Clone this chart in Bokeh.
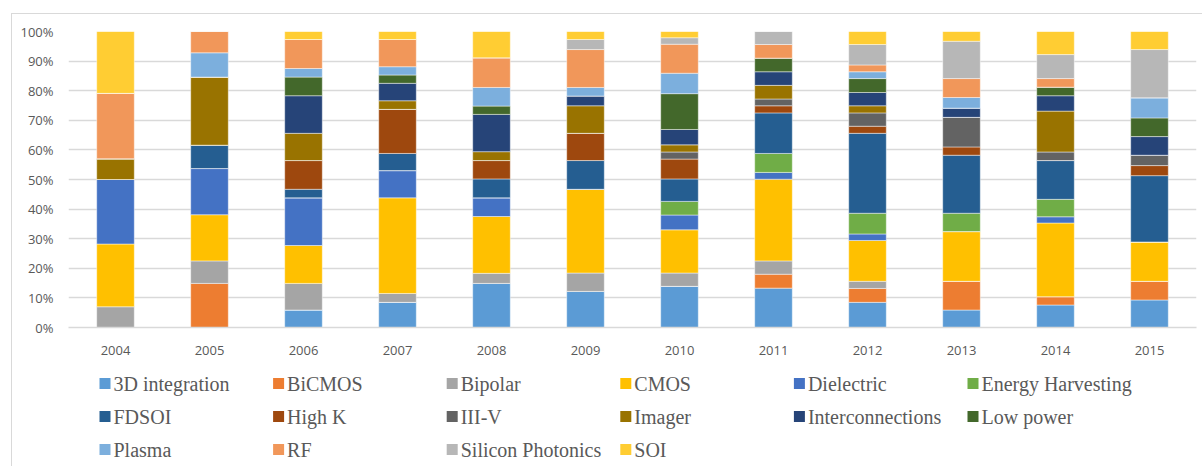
from bokeh.plotting import figure
from bokeh.layouts import column
from bokeh.models import (FactorRange, Range1d, FixedTicker, ColumnDataSource,
                          InlineStyleSheet, CustomJSTickFormatter)
from bokeh.core.properties import value
from bokeh.embed import file_html
from bokeh.resources import INLINE

years = ["2004", "2005", "2006", "2007", "2008", "2009", "2010", "2011", "2012", "2013", "2014", "2015"]

series_names = ["3D integration", "BiCMOS", "Bipolar", "CMOS", "Dielectric", "Energy Harvesting",
                "FDSOI", "High K", "III-V", "Imager", "Interconnections", "Low power",
                "Plasma", "RF", "Silicon Photonics", "SOI"]

# share of each topic per year (%)
three_d = [0, 0, 5.9, 8.5, 14.9, 12.2, 13.9, 13.3, 8.5, 5.9, 7.6, 9.3]
bicmos = [0, 14.9, 0, 0, 0, 0, 0, 4.7, 4.7, 9.7, 2.8, 6.3]
bipolar = [7.0, 7.6, 9.0, 3.0, 3.4, 6.2, 4.5, 4.5, 2.4, 0, 0, 0]
cmos = [21.2, 15.6, 12.8, 32.3, 19.2, 28.3, 14.6, 27.6, 13.8, 16.8, 24.9, 13.3]
dielectric = [21.8, 15.6, 16.1, 9.2, 6.3, 0, 5.0, 2.3, 2.2, 0, 2.1, 0]
energy_harvesting = [0, 0, 0, 0, 0, 0, 4.6, 6.4, 7.0, 6.2, 5.9, 0]
fdsoi = [0, 7.9, 2.9, 5.8, 6.4, 9.7, 7.6, 13.7, 27.0, 19.6, 13.1, 22.4]
high_k = [0, 0, 9.7, 14.9, 6.2, 9.2, 6.7, 2.4, 2.4, 2.8, 0, 3.4]
iii_v = [0, 0, 0, 0, 0, 0, 2.4, 2.3, 4.5, 10.0, 2.9, 3.5]
imager = [7.0, 23.0, 9.2, 2.9, 3.0, 9.3, 2.4, 4.6, 2.4, 0, 13.8, 0]
interconnections = [0, 0, 12.7, 5.9, 12.6, 3.3, 5.2, 4.6, 4.5, 3.1, 5.2, 6.3]
low_power = [0, 0, 6.3, 2.8, 2.8, 0, 12.1, 4.6, 4.7, 0, 2.9, 6.3]
plasma = [0, 8.2, 2.9, 2.8, 6.3, 2.9, 6.9, 0, 2.3, 3.6, 0, 6.8]
rf = [22.1, 7.2, 9.8, 9.2, 10.0, 12.8, 9.8, 4.6, 2.3, 6.4, 2.9, 0]
silicon_photonics = [0, 0, 0, 0, 0, 3.4, 2.2, 4.4, 6.9, 12.6, 8.1, 16.3]
soi = [20.9, 0, 2.7, 2.7, 8.9, 2.7, 2.1, 0, 4.4, 3.3, 7.8, 6.1]

colors = ["#5B9BD5", "#ED7D31", "#A5A5A5", "#FFC000", "#4472C4", "#70AD47",
          "#255E91", "#9E480E", "#636363", "#997300", "#264478", "#43682B",
          "#7CAFDD", "#F1975A", "#B7B7B7", "#FFCD33"]

y_ticks = [0, 10, 20, 30, 40, 50, 60, 70, 80, 90, 100]

all_series = [three_d, bicmos, bipolar, cmos, dielectric, energy_harvesting, fdsoi, high_k,
              iii_v, imager, interconnections, low_power, plasma, rf, silicon_photonics, soi]
keys = ["s%d" % i for i in range(len(series_names))]
data = {"year": years}
for k, s in zip(keys, all_series):
    data[k] = s
source = ColumnDataSource(data)

W = 1202
H_MAIN = 370
H_LEG = 96
LEFT = 68
RIGHT_PAD = 6

p = figure(x_range=FactorRange(*years), y_range=Range1d(0, 100),
           width=W, height=H_MAIN, output_backend="svg", toolbar_location=None,
           min_border_left=LEFT, min_border_right=RIGHT_PAD, min_border_top=31,
           min_border_bottom=H_MAIN - 327,
           outline_line_color=None, background_fill_color="white", border_fill_color=None)

p.vbar_stack(keys, x="year", width=0.4, source=source, color=colors,
             line_color="white", line_width=1, line_alpha=0.45)

p.ygrid.ticker = FixedTicker(ticks=y_ticks)
p.ygrid.grid_line_color = "#D9D9D9"
p.ygrid.grid_line_width = 1.5
p.xgrid.grid_line_color = None

p.yaxis.ticker = FixedTicker(ticks=y_ticks)
p.yaxis.formatter = CustomJSTickFormatter(code="return tick.toFixed(0) + '%';")
p.yaxis.axis_line_color = None
p.yaxis.major_tick_line_color = None
p.yaxis.minor_tick_line_color = None
p.yaxis.major_tick_out = 0
p.yaxis.major_label_standoff = 15
p.yaxis.major_label_text_font = "Open Sans"
p.yaxis.major_label_text_font_size = "13px"
p.yaxis.major_label_text_color = "#595959"

p.xaxis.axis_line_color = "#D9D9D9"
p.xaxis.axis_line_width = 1.5
p.xaxis.major_tick_line_color = None
p.xaxis.major_tick_out = 0
p.xaxis.major_label_standoff = 18
p.xaxis.major_label_text_font = "Open Sans"
p.xaxis.major_label_text_font_size = "13px"
p.xaxis.major_label_text_color = "#595959"

# legend panel (pixel-like coordinates, y downwards)
n_cols = 6
leg_x = [99 + 173.6 * (i % n_cols) for i in range(len(series_names))]
leg_y = [383 + 33 * (i // n_cols) for i in range(len(series_names))]
leg_src = ColumnDataSource(dict(
    x=[x + 5.5 for x in leg_x], tx=[x + 14 for x in leg_x], y=leg_y,
    name=series_names, color=colors))

pl = figure(x_range=Range1d(LEFT, W - RIGHT_PAD), y_range=Range1d(H_MAIN + H_LEG, H_MAIN),
            width=W, height=H_LEG, output_backend="svg", toolbar_location=None,
            min_border_left=LEFT, min_border_right=RIGHT_PAD, min_border_top=0,
            min_border_bottom=0, outline_line_color=None, border_fill_color=None,
            background_fill_color=None)
pl.axis.visible = False
pl.grid.visible = False
pl.rect(x="x", y="y", width=11, height=11, source=leg_src, fill_color="color", line_color=None)
pl.text(x="tx", y="y", text="name", source=leg_src, text_font=value("Liberation Serif"),
        text_font_size=value("20px"), text_color="#595959", text_baseline="middle",
        text_align="left")

border_css = InlineStyleSheet(css="""
:host { position: relative; background: white; }
:host::after {
  content: ""; position: absolute; left: 11px; top: 13px; right: 0px; bottom: 0px;
  border-left: 1px solid #D9D9D9; border-top: 1px solid #D9D9D9;
  pointer-events: none;
}
""")

layout = column(p, pl, spacing=0, stylesheets=[border_css])

open("out.html", "w").write(file_html(layout, INLINE))
